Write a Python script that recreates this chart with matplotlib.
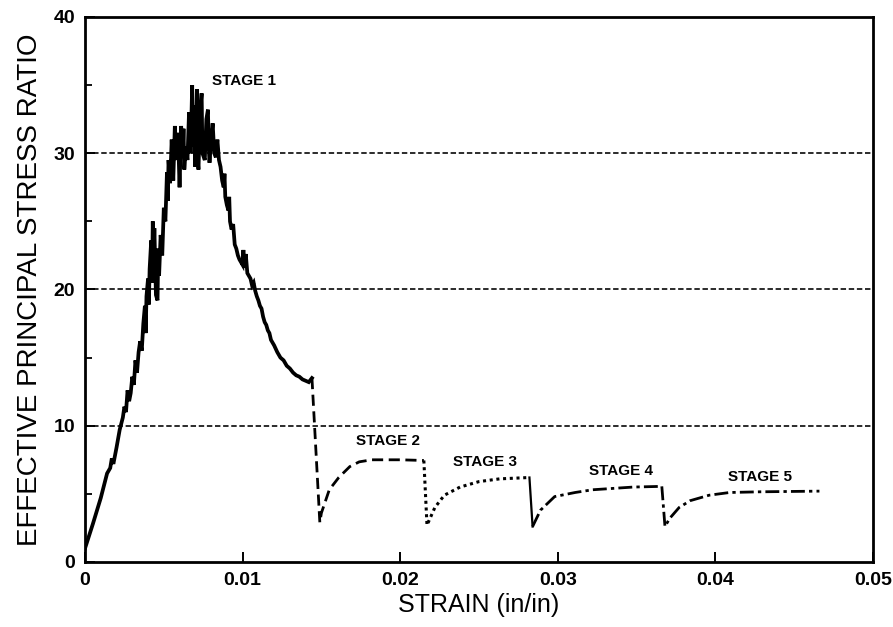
import matplotlib.pyplot as plt
from matplotlib.ticker import MultipleLocator

plt.rcParams['font.family'] = ['Liberation Sans', 'DejaVu Sans']

# stage 1 - loading to peak and softening (solid, jagged)
strain_s1 = [0.0000, 0.0005, 0.0010, 0.0014, 0.0016, 0.0017, 0.0018, 0.0020, 0.0022, 0.0024,
             0.0025, 0.0026, 0.0027, 0.0028, 0.0029, 0.0030, 0.0031, 0.0032, 0.0033, 0.0034,
             0.0035, 0.0036, 0.0037, 0.0038, 0.00385, 0.0039, 0.0040, 0.00405, 0.0041, 0.0042,
             0.00425, 0.0043, 0.00435, 0.0044, 0.0045, 0.0046, 0.00465, 0.0047, 0.0048, 0.0049,
             0.0050, 0.0051, 0.0052, 0.00525, 0.0053, 0.0054, 0.0055, 0.0056, 0.0057, 0.0058,
             0.0059, 0.0060, 0.0061, 0.0062, 0.00625, 0.0063, 0.0064, 0.0065, 0.0066, 0.0067,
             0.0068, 0.00685, 0.0069, 0.0070, 0.0071, 0.00715, 0.0072, 0.0073, 0.0074, 0.00745,
             0.0076, 0.0077, 0.0078, 0.00785, 0.0079, 0.0080, 0.0081, 0.0082, 0.0083, 0.0084,
             0.0085, 0.0086, 0.0087, 0.0088, 0.00885, 0.0089, 0.0090, 0.0091, 0.00915, 0.0092,
             0.0093, 0.0094, 0.0095, 0.0096, 0.0097, 0.0098, 0.0099, 0.0100, 0.01005, 0.0101,
             0.0102, 0.0103, 0.0104, 0.0105, 0.0106, 0.0107, 0.0108, 0.0109, 0.0110, 0.0111,
             0.0112, 0.0113, 0.0114, 0.0115, 0.0116, 0.0117, 0.0118, 0.0120, 0.0122, 0.0124,
             0.0126, 0.0128, 0.0130, 0.0132, 0.0134, 0.0136, 0.0138, 0.0140, 0.0142, 0.0144]
ratio_s1 = [1.0, 2.8, 4.7, 6.5, 6.9, 7.6, 7.2, 8.4, 9.7, 10.6,
            11.4, 11.0, 12.6, 11.8, 12.4, 13.6, 13.0, 14.8, 13.9, 15.4,
            16.2, 15.5, 17.5, 18.8, 16.8, 19.5, 20.8, 18.9, 21.5, 23.6,
            20.5, 25.0, 22.0, 24.5, 19.6, 19.2, 23.0, 21.0, 24.0, 22.5,
            26.0, 25.0, 28.6, 26.5, 29.5, 27.8, 31.0, 28.0, 32.0, 29.5,
            31.5, 27.5, 32.0, 30.0, 31.8, 28.8, 30.5, 29.5, 33.0, 30.0,
            35.0, 30.5, 33.5, 29.0, 34.7, 29.5, 28.8, 33.0, 34.4, 30.0,
            29.5, 32.5, 33.2, 30.5, 29.3, 31.0, 32.2, 30.0, 29.7, 31.0,
            29.5, 29.0, 28.0, 27.5, 28.5, 26.8, 26.2, 25.8, 26.8, 25.0,
            24.4, 24.8, 23.3, 23.0, 22.5, 22.2, 22.0, 21.8, 22.9, 21.6,
            22.6, 21.2, 21.0, 20.8, 20.3, 20.5, 19.9, 19.5, 19.2, 18.8,
            18.6, 18.0, 17.6, 17.4, 17.0, 16.8, 16.3, 15.9, 15.4, 15.0,
            14.8, 14.4, 14.2, 13.9, 13.7, 13.6, 13.4, 13.3, 13.2, 13.5]

strain_s2 = [0.0144, 0.0149, 0.0150, 0.0155, 0.0161, 0.0168, 0.0174, 0.0182, 0.0200, 0.0215]
ratio_s2 = [13.5, 2.9, 3.6, 5.3, 6.2, 7.0, 7.35, 7.5, 7.5, 7.45]

strain_s3 = [0.0215, 0.0217, 0.0222, 0.0228, 0.0238, 0.0250, 0.0263, 0.0282]
ratio_s3 = [7.45, 2.7, 4.0, 4.9, 5.5, 5.9, 6.1, 6.2]

strain_drop4 = [0.0282, 0.0284]
ratio_drop4 = [6.2, 2.6]
strain_s4 = [0.0284, 0.0289, 0.0298, 0.0311, 0.0322, 0.0335, 0.0348, 0.0366]
ratio_s4 = [2.6, 3.8, 4.8, 5.1, 5.3, 5.4, 5.5, 5.55]

strain_s5 = [0.0366, 0.0368, 0.0371, 0.0377, 0.0384, 0.0396, 0.0409, 0.0428, 0.0466]
ratio_s5 = [5.55, 2.6, 3.2, 4.0, 4.5, 4.9, 5.1, 5.15, 5.2]

stage_labels = ['STAGE 1', 'STAGE 2', 'STAGE 3', 'STAGE 4', 'STAGE 5']
label_x = [0.0101, 0.0192, 0.0254, 0.0340, 0.0428]
label_y = [35.3, 8.9, 7.35, 6.7, 6.25]

grid_levels = [10, 20, 30]

fig = plt.figure(figsize=(8.93, 6.27), dpi=100)
ax = fig.add_axes([0.0952, 0.1037, 0.8824, 0.8692])

for g in grid_levels:
    ax.axhline(g, color='#1a1a1a', lw=1.3, ls=(0, (3, 1.5)), zorder=1)

ax.plot(strain_s1, ratio_s1, color='black', lw=2.7, solid_joinstyle='miter')
ax.plot(strain_s2, ratio_s2, color='black', lw=2.0, ls=(0, (4, 2)))
ax.plot(strain_s3, ratio_s3, color='black', lw=2.2, ls=(0, (1, 1.2)))
ax.plot(strain_drop4, ratio_drop4, color='black', lw=1.6)
ax.plot(strain_s4, ratio_s4, color='black', lw=2.0, ls=(0, (5, 1.5, 1.2, 1.5)))
ax.plot(strain_s5, ratio_s5, color='black', lw=2.0, ls=(0, (5, 1.5, 1.2, 1.5)))

for t, x, y in zip(stage_labels, label_x, label_y):
    ax.text(x, y, t, ha='center', va='center', fontsize=11, fontweight='bold')

ax.set_xlim(0, 0.05)
ax.set_ylim(0, 40)
ax.yaxis.set_major_locator(MultipleLocator(10))
ax.yaxis.set_minor_locator(MultipleLocator(5))
ax.set_xticks([0, 0.01, 0.02, 0.03, 0.04, 0.05])
ax.set_xticklabels(['0', '0.01', '0.02', '0.03', '0.04', '0.05'])
ax.tick_params(direction='in', length=7, width=1.4, labelsize=14, pad=7)
ax.tick_params(which='minor', direction='in', length=5, width=1.3)
for lab in ax.get_xticklabels() + ax.get_yticklabels():
    lab.set_fontweight('bold')

for s in ax.spines.values():
    s.set_linewidth(2.0)

ax.set_xlabel('STRAIN (in/in)', fontsize=18, labelpad=3)
ax.set_ylabel('EFFECTIVE PRINCIPAL STRESS RATIO', fontsize=20, labelpad=8)

fig.savefig('out.png', dpi=100)
